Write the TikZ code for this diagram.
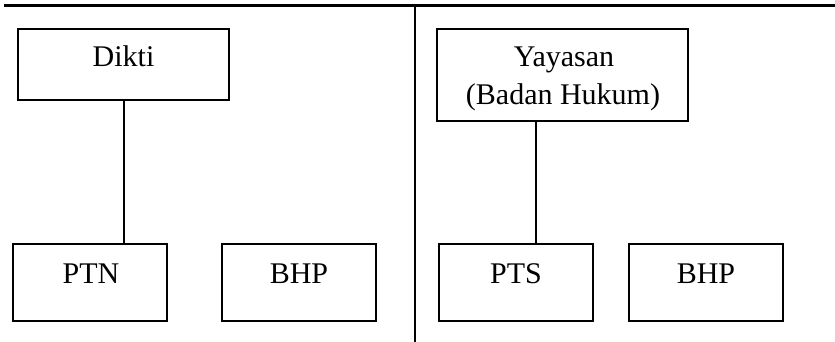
\documentclass[tikz,border=0pt]{standalone}
\usepackage{fontspec}
\setmainfont{Liberation Serif}
\begin{document}
\begin{tikzpicture}[x=1pt,y=-1pt,
  box/.style={draw=black, line width=1.6pt, rectangle, inner sep=0pt, outer sep=0pt},
  lbl/.style={anchor=base, inner sep=0pt, font=\fontsize{30}{36}\selectfont},
  conn/.style={draw=black, line width=1.4pt},
  rule/.style={draw=black, line width=3pt}]
\useasboundingbox (0,0) rectangle (835,342);
% frame lines
\coordinate (tl) at (4,6);
\coordinate (tr) at (835,6);
\coordinate (dtop) at (415,6);
\coordinate (dbot) at (415,342);
\draw[rule] (tl) -- (tr);
\draw[rule, line width=2.6pt] (dtop) -- (dbot);
% boxes
\node[box, minimum width=211pt, minimum height=71pt] (dikti) at (123.5,64.5) {};
\node[box, minimum width=154pt, minimum height=77pt] (ptn) at (90,282.5) {};
\node[box, minimum width=154pt, minimum height=77pt] (bhpl) at (299,282.5) {};
\node[box, minimum width=251pt, minimum height=92pt] (yay) at (562.5,75) {};
\node[box, minimum width=154pt, minimum height=77pt] (pts) at (516,282.5) {};
\node[box, minimum width=154pt, minimum height=77pt] (bhpr) at (706,282.5) {};
% texts
\node[lbl] (diktit) at (123.5,67) {Dikti};
\node[lbl] (ptnt) at (91,283) {PTN};
\node[lbl] (bhplt) at (299,283) {BHP};
\node[lbl] (yayt1) at (564,67) {Yayasan};
\node[lbl] (yayt2) at (563,105) {(Badan Hukum)};
\node[lbl] (ptst) at (516,283) {PTS};
\node[lbl] (bhprt) at (706,283) {BHP};
% connectors
\draw[conn] (dikti.south -| 124,0) -- (ptn.north -| 124,0);
\draw[conn] (yay.south -| 536,0) -- (pts.north -| 536,0);
\end{tikzpicture}
\end{document}
